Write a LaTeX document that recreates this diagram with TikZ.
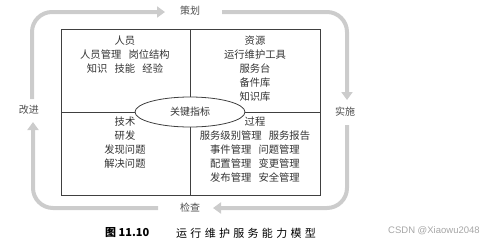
\documentclass[tikz,border=0pt]{standalone}
\usepackage{fontspec}
\setmainfont{Noto Sans CJK SC}
\newfontfamily\wmfont{Liberation Sans}
\newfontfamily\capfont[LetterSpace=30]{Noto Sans CJK SC}
\usetikzlibrary{arrows.meta,shapes.geometric}
\newcommand{\gap}{\hspace{0.7em}}
\begin{document}
\begin{tikzpicture}[x=1pt,y=-1pt,
  cycarrow/.style={draw=black!20,line width=4pt,rounded corners=20pt,-{Triangle[width=11pt,length=8pt]}},
  cyclabel/.style={text=black!70,font=\fontsize{10}{11}\selectfont,inner sep=1pt},
  celltext/.style={text=black!80,font=\fontsize{10.3}{14}\selectfont,align=center,anchor=north,inner sep=0pt},
  boxline/.style={draw=black!75,line width=0.8pt}]
\useasboundingbox (0,0) rectangle (499,242);
% box
\draw[boxline] (61,29) rectangle (320,195);
\draw[boxline] (190,29) -- (190,195);
\draw[boxline] (61,112) -- (320,112);
\node[draw=black!75,line width=0.8pt,fill=white,ellipse,minimum width=110pt,minimum height=30pt,inner sep=0pt,
  font=\fontsize{10}{11}\selectfont,text=black!80] (kpi) at (190,112) {关键指标};
% cells
\node[celltext] (people) at (125,36) {人员\\人员管理\gap 岗位结构\\知识\gap 技能\gap 经验};
\node[celltext] (res) at (255,36) {资源\\运行维护工具\\服务台\\备件库\\知识库};
\node[celltext] (tech) at (125,117) {技术\\研发\\发现问题\\解决问题};
\node[celltext] (proc) at (255,117) {过程\\服务级别管理\gap 服务报告\\事件管理\gap 问题管理\\配置管理\gap 变更管理\\发布管理\gap 安全管理};
% cycle labels
\node[cyclabel] (plan) at (190,11) {策划};
\node[cyclabel] (do) at (345,112) {实施};
\node[cyclabel] (check) at (190,208) {检查};
\node[cyclabel] (act) at (29,110) {改进};
% cycle arrows
\coordinate (a1) at (32,99);
\coordinate (a2) at (165,12);
\coordinate (b1) at (222,12);
\coordinate (b2) at (347,100);
\coordinate (c1) at (347,125);
\coordinate (c2) at (213,208);
\coordinate (d1) at (158,208);
\coordinate (d2) at (33,122);
\draw[cycarrow] (a1) |- (a2);
\draw[cycarrow] (b1) -| (b2);
\draw[cycarrow] (c1) |- (c2);
\draw[cycarrow] (d1) -| (d2);
% caption
\node[anchor=west,font=\fontsize{11}{12}\selectfont\bfseries,inner sep=0pt] (capnum) at (105,233) {图 11.10};
\node[anchor=west,font=\capfont\fontsize{11}{12}\selectfont,inner sep=0pt] (captext) at (176,233) {运行维护服务能力模型};
\node[anchor=west,font=\wmfont\fontsize{9.5}{11}\selectfont,text=black!35,inner sep=0pt] (wm) at (388,231) {CSDN @Xiaowu2048};
\end{tikzpicture}
\end{document}
